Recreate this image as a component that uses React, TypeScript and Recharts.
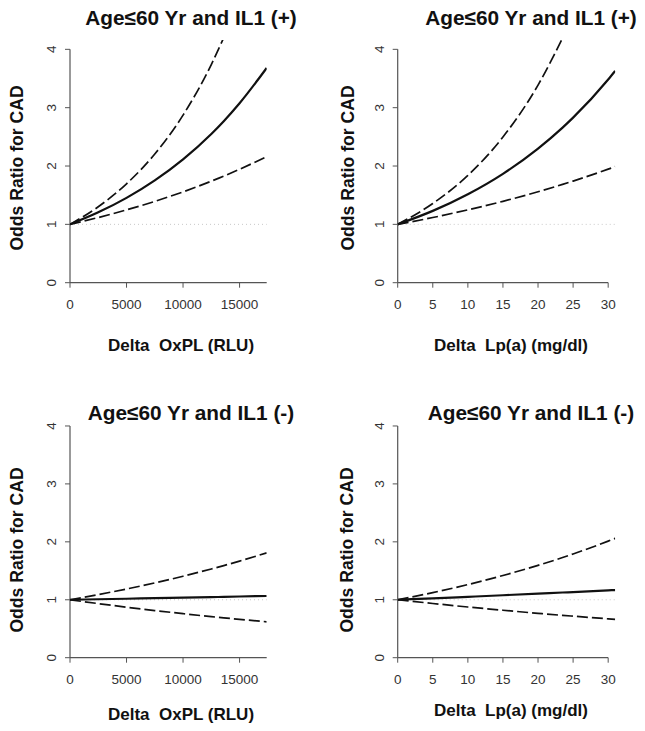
import { Line, LineChart, ReferenceLine, XAxis, YAxis } from "recharts";

// OR curves: point estimate plus lower / upper 95% limits.
const oxplX = [0, 2500, 5000, 7500, 10000, 12500, 13600, 15000, 17400];
const lpaX = [0, 5, 10, 15, 20, 23.5, 25, 30, 31];

const oxplTicks = [0, 5000, 10000, 15000];
const lpaTicks = [0, 5, 10, 15, 20, 25, 30];
const orTicks = [0, 1, 2, 3, 4];

const oxplPosEst = [1, 1.206, 1.454, 1.754, 2.115, 2.55, 2.769, 3.076, 3.681];
const oxplPosUpper = [1, 1.302, 1.695, 2.206, 2.872, 3.739, 4.2, null, null];
const oxplPosLower = [1, 1.117, 1.248, 1.394, 1.557, 1.74, 1.826, 1.944, 2.162];

const lpaPosEst = [1, 1.231, 1.516, 1.866, 2.298, 2.658, 2.829, 3.483, 3.631];
const lpaPosUpper = [1, 1.357, 1.84, 2.497, 3.387, 4.193, null, null, null];
const lpaPosLower = [1, 1.117, 1.249, 1.395, 1.559, 1.685, 1.742, 1.946, 1.99];

const oxplNegEst = [1, 1.009, 1.018, 1.028, 1.037, 1.046, 1.05, 1.056, 1.065];
const oxplNegUpper = [1, 1.089, 1.186, 1.291, 1.406, 1.532, 1.59, 1.668, 1.81];
const oxplNegLower = [1, 0.934, 0.872, 0.814, 0.76, 0.709, 0.688, 0.662, 0.62];

const lpaNegEst = [1, 1.025, 1.051, 1.078, 1.105, 1.125, 1.133, 1.162, 1.168];
const lpaNegUpper = [1, 1.124, 1.262, 1.419, 1.594, 1.729, 1.791, 2.012, 2.06];
const lpaNegLower = [1, 0.936, 0.875, 0.819, 0.766, 0.731, 0.717, 0.671, 0.662];

const FONT = "'Liberation Sans', Arial, sans-serif";
const AXIS = "#555";
const Y_TOP = 4.16; // R pads the y range a little above 4

function rows(xs: number[], est: (number | null)[], lo: (number | null)[], hi: (number | null)[]) {
  return xs.map((x, i) => ({ x, est: est[i], lo: lo[i], hi: hi[i] }));
}

function XTick({ x, y, payload }: any) {
  return (
    <text x={x} y={y + 19.5} textAnchor="middle" fontSize={13.5} fill="#333" fontFamily={FONT}>
      {payload.value}
    </text>
  );
}

function YTick({ x, y, payload }: any) {
  const bx = x - 6.5;
  return (
    <text x={bx} y={y} transform={`rotate(-90 ${bx} ${y})`} textAnchor="middle" fontSize={13.5} fill="#333" fontFamily={FONT}>
      {payload.value}
    </text>
  );
}

function Txt({ cx, cy, size, rotate, children }: { cx: number; cy: number; size: number; rotate?: boolean; children: string }) {
  return (
    <div
      style={{
        position: "absolute",
        left: cx,
        top: cy,
        transform: `translate(-50%, -50%)${rotate ? " rotate(-90deg)" : ""}`,
        whiteSpace: "pre",
        lineHeight: 1,
        fontSize: size,
        fontWeight: 700,
        color: "#111",
      }}
    >
      {children}
    </div>
  );
}

type PanelProps = {
  left: number;
  top: number;
  height: number;
  yAxisW: number;
  mTop: number;
  mRight: number;
  mBottom: number;
  data: any[];
  xMax: number;
  axisEnd: number;
  xTicks: number[];
};

function Panel(p: PanelProps) {
  return (
    <div style={{ position: "absolute", left: p.left, top: p.top }}>
      <LineChart width={320} height={p.height} data={p.data} margin={{ top: p.mTop, right: p.mRight, left: 0, bottom: p.mBottom }}>
        <XAxis
          type="number"
          dataKey="x"
          domain={[0, p.xMax]}
          ticks={p.xTicks}
          allowDataOverflow
          height={30}
          axisLine={false}
          tickLine={{ stroke: AXIS }}
          tickSize={5}
          tick={<XTick />}
          interval={0}
        />
        <YAxis
          type="number"
          domain={[0, Y_TOP]}
          ticks={orTicks}
          allowDataOverflow
          width={p.yAxisW}
          axisLine={false}
          tickLine={{ stroke: AXIS }}
          tickSize={5}
          tick={<YTick />}
          interval={0}
        />
        <ReferenceLine y={1} stroke="#c8c8c8" strokeDasharray="1 3" />
        <ReferenceLine segment={[{ x: 0, y: 0 }, { x: 0, y: 4 }]} stroke={AXIS} strokeWidth={1.2} />
        <ReferenceLine segment={[{ x: 0, y: 0 }, { x: p.axisEnd, y: 0 }]} stroke={AXIS} strokeWidth={1.2} />
        <Line dataKey="hi" type="monotone" stroke="#111" strokeWidth={1.7} strokeDasharray="11 4" dot={false} isAnimationActive={false} />
        <Line dataKey="lo" type="monotone" stroke="#111" strokeWidth={1.7} strokeDasharray="11 4" dot={false} isAnimationActive={false} />
        <Line dataKey="est" type="monotone" stroke="#111" strokeWidth={2.2} dot={false} isAnimationActive={false} />
      </LineChart>
    </div>
  );
}

export default function App() {
  return (
    <div style={{ position: "absolute", left: 0, top: 0, width: 645, height: 731, background: "#fff", fontFamily: FONT, overflow: "hidden" }}>
      <Panel left={0} top={0} height={330} yAxisW={70} mTop={40} mRight={53.3} mBottom={17.3}
        data={rows(oxplX, oxplPosEst, oxplPosLower, oxplPosUpper)} xMax={17400} axisEnd={17400} xTicks={oxplTicks} />
      <Panel left={320} top={0} height={330} yAxisW={77.7} mTop={40} mRight={24.8} mBottom={17.3}
        data={rows(lpaX, lpaPosEst, lpaPosLower, lpaPosUpper)} xMax={31} axisEnd={30} xTicks={lpaTicks} />
      <Panel left={0} top={360} height={370} yAxisW={70} mTop={56.7} mRight={53.3} mBottom={42.3}
        data={rows(oxplX, oxplNegEst, oxplNegLower, oxplNegUpper)} xMax={17400} axisEnd={17400} xTicks={oxplTicks} />
      <Panel left={320} top={360} height={370} yAxisW={77.7} mTop={56.7} mRight={24.8} mBottom={42.3}
        data={rows(lpaX, lpaNegEst, lpaNegLower, lpaNegUpper)} xMax={31} axisEnd={30} xTicks={lpaTicks} />

      <Txt cx={191} cy={18} size={20.8}>Age≤60 Yr and IL1 (+)</Txt>
      <Txt cx={531} cy={18} size={20.8}>Age≤60 Yr and IL1 (+)</Txt>
      <Txt cx={191} cy={413} size={20.8}>Age≤60 Yr and IL1 (-)</Txt>
      <Txt cx={531} cy={413} size={20.8}>Age≤60 Yr and IL1 (-)</Txt>

      <Txt cx={17.5} cy={168} size={17.6} rotate>Odds Ratio for CAD</Txt>
      <Txt cx={349} cy={168} size={17.6} rotate>Odds Ratio for CAD</Txt>
      <Txt cx={17.5} cy={550} size={17.6} rotate>Odds Ratio for CAD</Txt>
      <Txt cx={348} cy={550} size={17.6} rotate>Odds Ratio for CAD</Txt>

      <Txt cx={181} cy={345} size={17}>Delta  OxPL (RLU)</Txt>
      <Txt cx={511} cy={345} size={17}>Delta  Lp(a) (mg/dl)</Txt>
      <Txt cx={181} cy={714} size={17}>Delta  OxPL (RLU)</Txt>
      <Txt cx={511} cy={710} size={17}>Delta  Lp(a) (mg/dl)</Txt>
    </div>
  );
}
